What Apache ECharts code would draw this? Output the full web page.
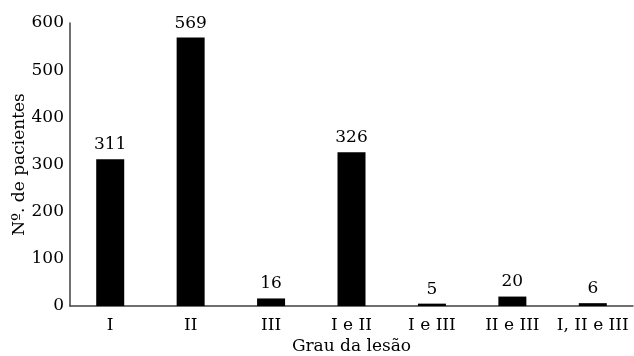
<!DOCTYPE html>
<html>
<head>
<meta charset="utf-8">
<script src="https://cdn.jsdelivr.net/npm/echarts@6/dist/echarts.min.js"></script>
<style>
  html, body { margin: 0; padding: 0; background: #fff; }
  #chart { width: 634px; height: 356px; }
</style>
</head>
<body>
<div id="chart"></div>
<script>
const categories = ['I', 'II', 'III', 'I e II', 'I e III', 'II e III', 'I, II e III']
const patients = [311, 569, 16, 326, 5, 20, 6]
const yTicks = [0, 100, 200, 300, 400, 500, 600]

const fontFamily = 'DejaVu Serif'
const myChart = echarts.init(document.getElementById('chart'))

const option = {
    animation: false,
    grid: {
        left: 70,
        right: 1,
        top: 23,
        bottom: 50,
        outerBoundsMode: 'none'
    },
    xAxis: {
        type: 'category',
        data: categories,
        name: 'Grau da lesão',
        nameLocation: 'middle',
        nameGap: 32,
        nameMoveOverlap: false,
        nameTextStyle: { color: '#000', fontFamily: fontFamily, fontSize: 17 },
        axisLine: { lineStyle: { color: '#404040', width: 1.5 } },
        axisTick: { show: false },
        axisLabel: { color: '#000', fontFamily: fontFamily, fontSize: 17, margin: 11, interval: 0 }
    },
    yAxis: {
        type: 'value',
        min: yTicks[0],
        max: yTicks[yTicks.length - 1],
        interval: 100,
        name: 'Nº. de pacientes',
        nameLocation: 'middle',
        nameGap: 42,
        nameMoveOverlap: false,
        nameTextStyle: { color: '#000', fontFamily: fontFamily, fontSize: 17 },
        axisLine: { show: true, lineStyle: { color: '#404040', width: 1.5 } },
        axisTick: { show: false },
        splitLine: { show: false },
        axisLabel: { color: '#000', fontFamily: fontFamily, fontSize: 17, margin: 6 }
    },
    series: [
        {
            type: 'bar',
            data: patients,
            barWidth: 28,
            itemStyle: { color: '#000' },
            label: {
                show: true,
                position: 'top',
                distance: 6,
                color: '#000',
                fontFamily: fontFamily,
                fontSize: 17
            }
        }
    ]
}

myChart.setOption(option)
</script>
</body>
</html>
